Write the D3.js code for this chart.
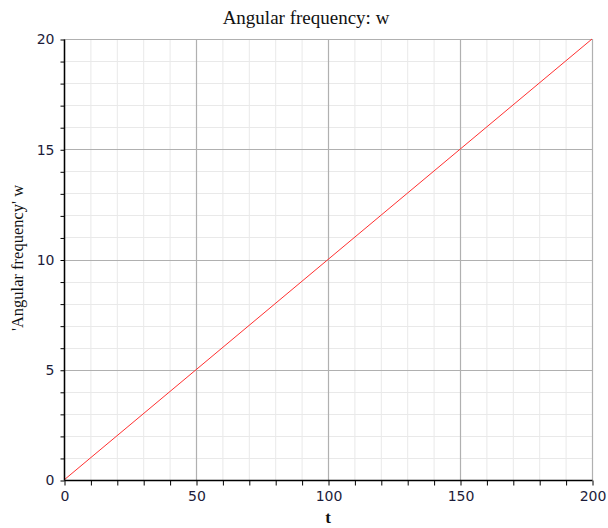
<!DOCTYPE html>
<html><head><meta charset="utf-8">
<script src="https://cdn.jsdelivr.net/npm/d3@7"></script>
<style>body{margin:0;background:#fff}svg{display:block}</style>
</head><body>
<svg id="c" width="608" height="528"></svg>
<script>
const tValues = [0, 25, 50, 75, 100, 125, 150, 175, 200];
const wValues = [0, 2.5, 5, 7.5, 10, 12.5, 15, 17.5, 20];
const xMajorTicks = [0, 50, 100, 150, 200];
const yMajorTicks = [0, 5, 10, 15, 20];
const titleText = "Angular frequency: w";
const xLabelText = "t";
const yLabelText = "'Angular frequency' w";

const svg = d3.select("#c");
const L = 64, R = 592, T = 39, B = 480;
const x = d3.scaleLinear().domain([0, 200]).range([L, R]);
const y = d3.scaleLinear().domain([0, 20]).range([B, T]);
const xMinor = d3.range(0, 201, 10);
const yMinor = d3.range(0, 21, 1);

// minor grid
svg.append("g").selectAll("line").data(xMinor).join("line")
  .attr("x1", d => x(d)+0.5).attr("x2", d => x(d)+0.5).attr("y1", T).attr("y2", B)
  .attr("stroke", "#e9e9e9").attr("stroke-width", 1);
svg.append("g").selectAll("line").data(yMinor).join("line")
  .attr("y1", d => Math.round(y(d))+0.5).attr("y2", d => Math.round(y(d))+0.5).attr("x1", L).attr("x2", R)
  .attr("stroke", "#e9e9e9").attr("stroke-width", 1);
// major grid
svg.append("g").selectAll("line").data(xMajorTicks).join("line")
  .attr("x1", d => x(d)+0.5).attr("x2", d => x(d)+0.5).attr("y1", T).attr("y2", B)
  .attr("stroke", "#b0b0b0").attr("stroke-width", 1.2);
svg.append("g").selectAll("line").data(yMajorTicks).join("line")
  .attr("y1", d => Math.round(y(d))+0.5).attr("y2", d => Math.round(y(d))+0.5).attr("x1", L).attr("x2", R)
  .attr("stroke", "#b0b0b0").attr("stroke-width", 1.2);

// line
const line = d3.line().x((d,i) => x(tValues[i])).y(d => y(d));
svg.append("path").datum(wValues).attr("d", line)
  .attr("fill", "none").attr("stroke", "#ff3030").attr("stroke-width", 1);

// axes
const tickFont = "DejaVu Sans, Verdana, sans-serif";
const xAxis = d3.axisBottom(x).tickValues(xMinor).tickSize(5)
  .tickFormat(d => xMajorTicks.includes(d) ? d : "");
const gx = svg.append("g").attr("transform", `translate(0.5,${B+0.5})`).call(xAxis);
gx.select(".domain").attr("stroke", "#000").attr("stroke-width", 1.5).attr("d", `M${L},0H${R}`);
gx.selectAll(".tick line").attr("stroke", "#000");
gx.selectAll(".tick text").attr("y", 11).attr("fill", "#1c1c3a")
  .style("font-family", tickFont).style("font-size", "14px");

const yAxis = d3.axisLeft(y).tickValues(yMinor).tickSize(4)
  .tickFormat(d => yMajorTicks.includes(d) ? d : "");
const gy = svg.append("g").attr("transform", `translate(${L+0.5},0.5)`).call(yAxis);
gy.select(".domain").attr("stroke", "#000").attr("stroke-width", 1.5).attr("d", `M0,${B}V${T}`);
gy.selectAll(".tick line").attr("stroke", "#000");
gy.selectAll(".tick text").attr("x", -10).attr("fill", "#1c1c3a")
  .style("font-family", tickFont).style("font-size", "14px");

// texts
const serif = "Liberation Serif, Times New Roman, serif";
svg.append("text").attr("x", 306).attr("y", 24).attr("text-anchor", "middle")
  .style("font-family", serif).style("font-size", "19px")
  .attr("fill", "#111").text(titleText);
svg.append("text").attr("x", 328).attr("y", 523).attr("text-anchor", "middle")
  .style("font-family", serif).style("font-size", "17px").style("font-weight", "bold")
  .attr("fill", "#111").text(xLabelText);
svg.append("text").attr("transform", "translate(23,258) rotate(-90)").attr("text-anchor", "middle")
  .style("font-family", serif).style("font-size", "16.5px")
  .attr("fill", "#111").text(yLabelText);
</script>
</body></html>
